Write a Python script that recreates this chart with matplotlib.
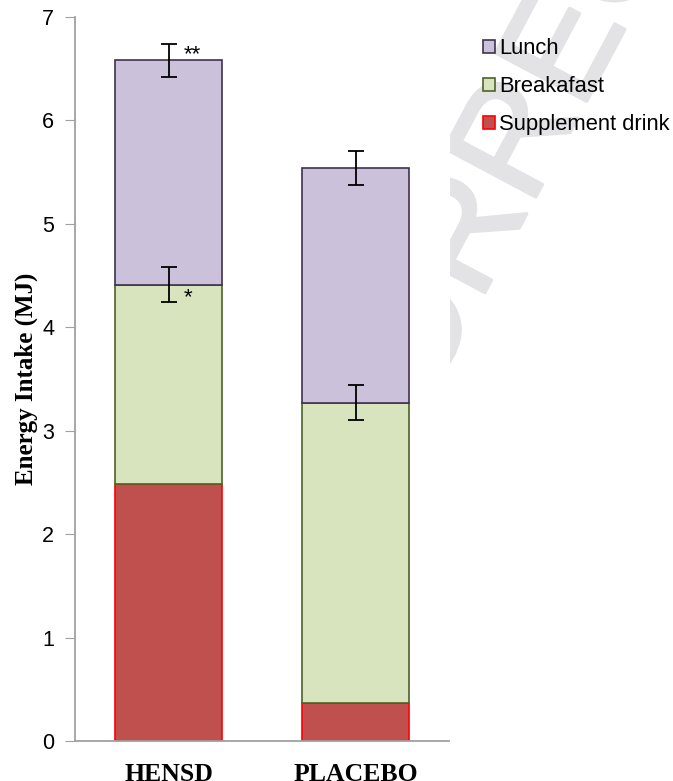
import matplotlib
matplotlib.use("Agg")
import matplotlib.pyplot as plt
import matplotlib.patheffects as pe
from matplotlib.patches import Patch, Rectangle
import numpy as np

groups = ["HENSD", "PLACEBO"]
supplement = [2.48, 0.37]
breakfast = [1.93, 2.90]
lunch = [2.17, 2.27]
breakfast_err = [0.17, 0.17]
lunch_err = [0.16, 0.16]
breakfast_sig = ["*", ""]
lunch_sig = ["**", ""]

c_sup, e_sup = "#c0504d", "#ff0000"
c_bf, e_bf = "#d7e4bd", "#4f6228"
c_lu, e_lu = "#ccc1da", "#3f3151"

fig = plt.figure(figsize=(6.73, 7.81), dpi=100)

# watermark (visible only at right of plot)
wm_color = "#e3e3e5"
wm = fig.text(0.96, 1.12, "UNCORRECTED PROOF", rotation=62, rotation_mode="anchor",
              ha="center", va="center", fontsize=108, color=wm_color,
              family="Liberation Sans", zorder=0,
              path_effects=[pe.withStroke(linewidth=2.5, foreground=wm_color)])
clip = Rectangle((450 / 673, 0), 1, 1, transform=fig.transFigure)
wm.set_clip_path(clip)

ax = fig.add_axes([75 / 673, 1 - 741 / 781, (449 - 75) / 673, (741 - 17) / 781])
ax.set_facecolor("white")
x = np.arange(len(groups))
w = 0.572
sup = np.array(supplement)
bf = np.array(breakfast)
lu = np.array(lunch)
ax.bar(x, sup, w, color=c_sup, edgecolor=e_sup, linewidth=1.2, zorder=2)
ax.bar(x, bf, w, bottom=sup, color=c_bf, edgecolor=e_bf, linewidth=1.2, zorder=2)
ax.bar(x, lu, w, bottom=sup + bf, color=c_lu, edgecolor=e_lu, linewidth=1.2, zorder=2)
ax.errorbar(x, sup + bf, yerr=breakfast_err, fmt="none", ecolor="black",
            elinewidth=1.3, capsize=5.5, capthick=1.3, zorder=3)
ax.errorbar(x, sup + bf + lu, yerr=lunch_err, fmt="none", ecolor="black",
            elinewidth=1.3, capsize=5.5, capthick=1.3, zorder=3)
for i in range(len(groups)):
    if breakfast_sig[i]:
        ax.text(x[i] + 0.08, sup[i] + bf[i] - 0.12, breakfast_sig[i], fontsize=16,
                family="Liberation Sans", ha="left", va="center")
    if lunch_sig[i]:
        ax.text(x[i] + 0.08, sup[i] + bf[i] + lu[i] + 0.06, lunch_sig[i], fontsize=16,
                family="Liberation Sans", ha="left", va="center")

ax.set_xlim(-0.5, 1.5)
ax.set_ylim(0, 7)
ax.set_yticks(range(0, 8))
ax.tick_params(axis="y", direction="out", length=7, color="#a0a0a0", labelsize=15.5, pad=8)
ax.tick_params(axis="x", length=0, pad=16)
for lab in ax.get_yticklabels():
    lab.set_family("Liberation Sans")
ax.set_xticks(x)
ax.set_xticklabels(groups, fontsize=18.5, fontweight="bold", family="Liberation Serif")
for s in ["top", "right"]:
    ax.spines[s].set_visible(False)
for s in ["left", "bottom"]:
    ax.spines[s].set_color("#a0a0a0")
    ax.spines[s].set_linewidth(1.3)
ax.set_ylabel("Energy Intake (MJ)", fontsize=18, fontweight="bold",
              family="Liberation Serif", labelpad=3)

handles = [Patch(facecolor=c_lu, edgecolor=e_lu, linewidth=1.2, label="Lunch"),
           Patch(facecolor=c_bf, edgecolor=e_bf, linewidth=1.2, label="Breakafast"),
           Patch(facecolor=c_sup, edgecolor=e_sup, linewidth=1.2, label="Supplement drink")]
fig.legend(handles=handles, loc="upper left", bbox_to_anchor=(483 / 673, 1 - 38 / 781),
           frameon=False, prop={"family": "Liberation Sans", "size": 15.8},
           handlelength=0.55, handleheight=0.55, handletextpad=0.2, labelspacing=0.78,
           borderaxespad=0, borderpad=0)

fig.savefig("out.png", dpi=100, facecolor="white")
